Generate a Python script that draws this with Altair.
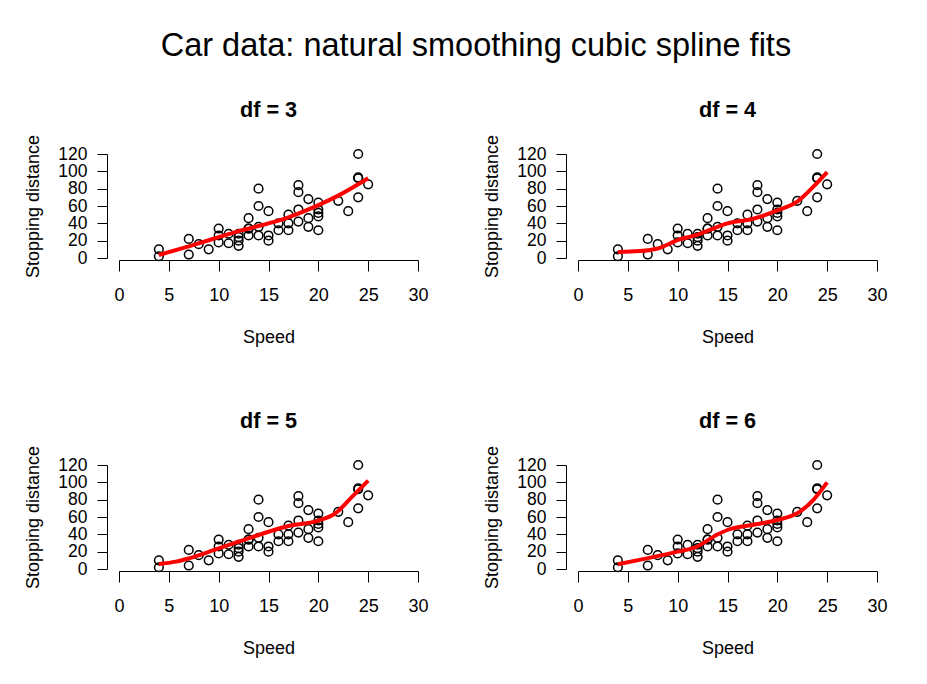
import altair as alt
import pandas as pd

# cars data (speed, stopping distance)
speed = [4, 4, 7, 7, 8, 9, 10, 10, 10, 11, 11, 12, 12, 12, 12, 13, 13, 13, 13, 14,
         14, 14, 14, 15, 15, 15, 16, 16, 17, 17, 17, 18, 18, 18, 18, 19, 19, 19, 20, 20,
         20, 20, 20, 22, 23, 24, 24, 24, 24, 25]
dist = [2, 10, 4, 22, 16, 10, 18, 26, 34, 17, 28, 14, 20, 24, 28, 26, 34, 34, 46, 26,
        36, 60, 80, 20, 26, 54, 32, 40, 32, 40, 50, 42, 56, 76, 84, 36, 46, 68, 32, 48,
        52, 56, 64, 66, 54, 70, 92, 93, 120, 85]

# fitted curves
fit3_x = [4, 7, 10, 12, 15, 17, 20, 22, 25]
fit3_y = [3.5, 13.5, 24, 31, 40, 47, 61, 72, 92]
fit4_x = [4, 6.2, 8, 10, 12, 14, 15, 17.5, 20, 22, 23.6, 25]
fit4_y = [7, 8, 11, 20.5, 27, 36, 40, 45, 55, 65, 82, 99]
fit5_x = [4, 5.7, 7, 10, 12, 15, 17, 20, 21.7, 23.4, 25]
fit5_y = [5.8, 8.5, 12.3, 23.8, 31.5, 43, 49.6, 55.8, 64.2, 83.5, 102]
fit6_x = [4, 6.9, 10, 11.9, 13.9, 15, 17.5, 20, 22.1, 23.6, 25]
fit6_y = [5.4, 12.3, 20, 25.7, 39.2, 45, 50.8, 56.5, 65, 79.6, 100]

panel_titles = ["df = 3", "df = 4", "df = 5", "df = 6"]
x_ticks = [0, 5, 10, 15, 20, 25, 30]
y_ticks = [0, 20, 40, 60, 80, 100, 120]
main_title = "Car data: natural smoothing cubic spline fits"

FONT = "Liberation Sans"
cars = pd.DataFrame({"speed": speed, "dist": dist})

XS = alt.Scale(domain=[0, 30], nice=False, zero=False)
YS = alt.Scale(domain=[0, 120], nice=False, zero=False)
XAX = alt.Axis(
    values=x_ticks, title="Speed", grid=False, offset=2,
    domainColor="black", tickColor="black", tickSize=11,
    labelFont=FONT, labelFontSize=18, labelColor="black", labelPadding=15,
    labelFlush=False, labelOverlap=False,
    titleFont=FONT, titleFontSize=18, titleFontWeight="normal",
    titleColor="black", titlePadding=24)
YAX = alt.Axis(
    values=y_ticks, title="Stopping distance", grid=False, offset=12,
    domainColor="black", tickColor="black", tickSize=10,
    labelFont=FONT, labelFontSize=17.5, labelColor="black", labelPadding=10,
    labelAngle=0, labelFlush=False, labelOverlap=False,
    titleFont=FONT, titleFontSize=18, titleFontWeight="normal",
    titleColor="black", titlePadding=15)


def panel(title, fx, fy):
    pts = alt.Chart(cars).mark_point(
        shape="circle", filled=False, color="black", size=75, strokeWidth=1.5, opacity=1
    ).encode(
        x=alt.X("speed:Q", scale=XS, axis=XAX),
        y=alt.Y("dist:Q", scale=YS, axis=YAX),
    )
    fit = pd.DataFrame({"speed": fx, "dist": fy})
    line = alt.Chart(fit).mark_line(
        color="#ff0000", strokeWidth=4, interpolate="monotone"
    ).encode(x=alt.X("speed:Q", scale=XS, axis=XAX),
             y=alt.Y("dist:Q", scale=YS, axis=YAX))
    return alt.layer(pts, line).properties(
        width=299, height=104,
        title=alt.TitleParams(title, font=FONT, fontSize=21.6, fontWeight="bold",
                              color="black", anchor="middle", offset=13),
    )


p1 = panel(panel_titles[0], fit3_x, fit3_y)
p2 = panel(panel_titles[1], fit4_x, fit4_y)
p3 = panel(panel_titles[2], fit5_x, fit5_y)
p4 = panel(panel_titles[3], fit6_x, fit6_y)

chart = alt.vconcat(
    alt.hconcat(p1, p2, spacing=54),
    alt.hconcat(p3, p4, spacing=54),
    spacing=64,
).properties(
    title=alt.TitleParams(main_title, font=FONT, fontSize=32.5, fontWeight="normal",
                          color="black", anchor="middle", offset=37, dx=20),
    padding={"left": 16, "top": 22, "right": 5, "bottom": 5},
).configure_view(stroke=None)

chart.save("out.html", embed_options={"renderer": "svg", "actions": False})
